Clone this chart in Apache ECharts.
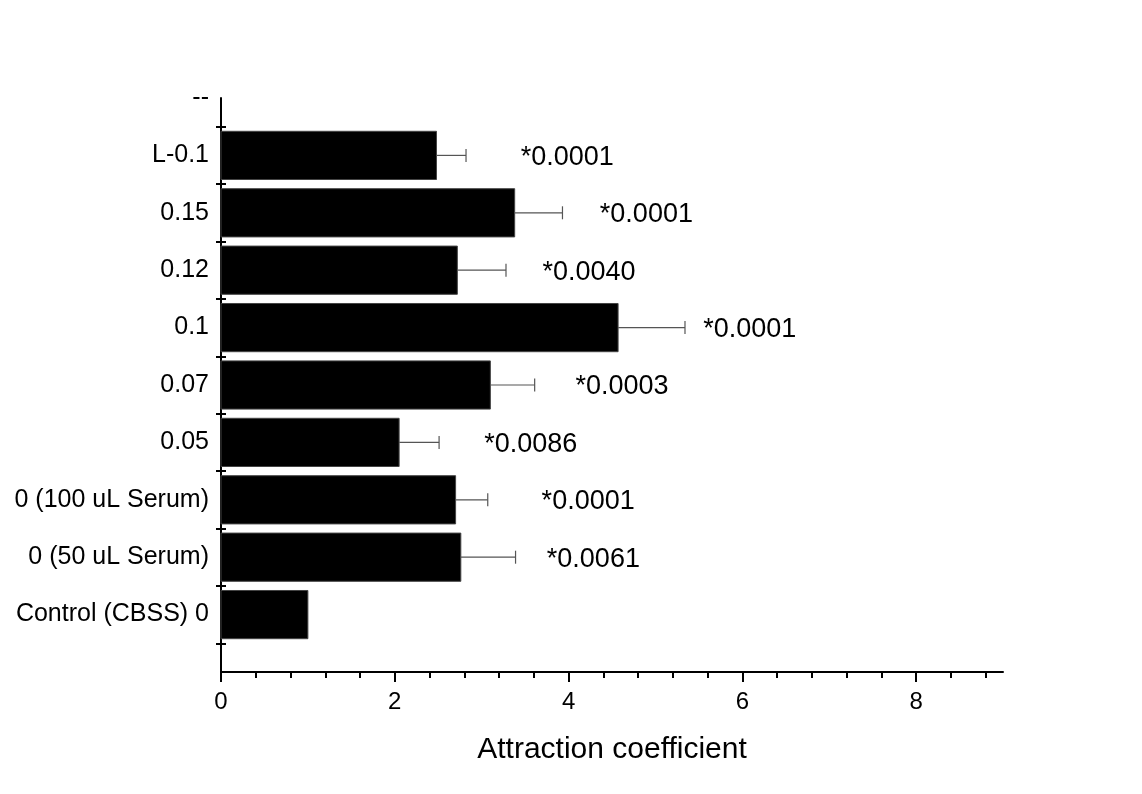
<!DOCTYPE html>
<html>
<head>
<meta charset="utf-8">
<script src="https://cdn.jsdelivr.net/npm/echarts@6/dist/echarts.min.js"></script>
<style>html,body{margin:0;padding:0;background:#fff}#c{width:1142px;height:794px}</style>
</head>
<body>
<div id="c"></div>
<script>
// Categories from bottom to top
var categories = ['Control (CBSS) 0','0 (50 uL Serum)','0 (100 uL Serum)','0.05','0.07','0.1','0.12','0.15','L-0.1'];
var topLabel = '--';
var means = [1.00, 2.76, 2.70, 2.05, 3.10, 4.57, 2.72, 3.38, 2.48];
var errors = [0, 0.63, 0.37, 0.46, 0.51, 0.77, 0.56, 0.55, 0.34];
var pValues = ['', '*0.0061', '*0.0001', '*0.0086', '*0.0003', '*0.0001', '*0.0040', '*0.0001', '*0.0001'];
var pLabelX = [0, 3.75, 3.69, 3.03, 4.08, 5.55, 3.70, 4.36, 3.45];
var xTicks = [0, 2, 4, 6, 8];

var FONT = '"Liberation Sans", Arial, sans-serif';
var chart = echarts.init(document.getElementById('c'));

var rows = categories.map(function (c, i) { return [means[i], i + 1, errors[i], pValues[i], pLabelX[i]]; });
var labelPositions = categories.map(function (c, i) { return i + 1; }).concat([categories.length + 1]);
var tickPositions = categories.map(function (c, i) { return i + 0.5; }).concat([categories.length + 0.5]);

function yLabel(v) {
  var k = Math.round(v);
  if (k >= 1 && k <= categories.length) return categories[k - 1];
  if (k === categories.length + 1) return topLabel;
  return '';
}

var BAR_HALF = 0.42;

chart.setOption({
  animation: false,
  backgroundColor: '#fff',
  grid: { left: 221, right: 139, top: 98, bottom: 122, containLabel: false },
  xAxis: {
    type: 'value', min: 0, max: 9, interval: 2,
    axisLine: { show: true, lineStyle: { color: '#000', width: 2 } },
    axisTick: { show: true, length: 10, customValues: xTicks, lineStyle: { color: '#000', width: 2 } },
    minorTick: { show: true, splitNumber: 5, length: 6, lineStyle: { color: '#000', width: 2 } },
    splitLine: { show: false },
    axisLabel: { fontSize: 24, color: '#000', fontFamily: FONT, margin: 18,
      customValues: xTicks },
    name: 'Attraction coefficient', nameLocation: 'middle', nameGap: 63,
    nameTextStyle: { fontSize: 30, color: '#000', fontFamily: FONT }
  },
  yAxis: [{
    type: 'value', min: 0, max: categories.length + 1,
    axisLine: { show: true, lineStyle: { color: '#000', width: 2 } },
    axisTick: { show: true, length: 5, customValues: tickPositions, lineStyle: { color: '#000', width: 2 } },
    splitLine: { show: false },
    axisLabel: { fontSize: 25, color: '#000', fontFamily: FONT, margin: 12,
      customValues: labelPositions, formatter: yLabel }
  }, {
    type: 'value', min: 0, max: categories.length + 1, position: 'left', offset: 0,
    axisLine: { show: false },
    axisTick: { show: true, inside: true, length: 5, customValues: tickPositions, lineStyle: { color: '#000', width: 2 } },
    splitLine: { show: false },
    axisLabel: { show: false }
  }],
  series: [{
    type: 'custom',
    coordinateSystem: 'cartesian2d',
    data: rows,
    encode: { x: 0, y: 1 },
    renderItem: function (params, api) {
      var v = api.value(0), y = api.value(1), e = api.value(2), lx = api.value(4);
      var p0 = api.coord([0, y + BAR_HALF]);
      var p1 = api.coord([v, y - BAR_HALF]);
      var children = [{
        type: 'rect',
        shape: { x: p0[0], y: p0[1], width: p1[0] - p0[0], height: p1[1] - p0[1] },
        style: { fill: '#000', stroke: '#444', lineWidth: 1 }
      }];
      if (e > 0) {
        var a = api.coord([v, y]);
        var b = api.coord([v + e, y]);
        children.push({ type: 'line', shape: { x1: a[0], y1: a[1], x2: b[0], y2: b[1] }, style: { stroke: '#555', lineWidth: 1.2 } });
        children.push({ type: 'line', shape: { x1: b[0], y1: b[1] - 6.5, x2: b[0], y2: b[1] + 6.5 }, style: { stroke: '#555', lineWidth: 1.2 } });
      }
      var txt = api.value(3);
      if (txt) {
        var t = api.coord([lx, y]);
        children.push({ type: 'text', x: t[0], y: t[1] + 2,
          style: { text: txt, fill: '#000', font: '27px ' + FONT, textAlign: 'left', textVerticalAlign: 'middle' } });
      }
      return { type: 'group', children: children };
    }
  }]
});
</script>
</body>
</html>
